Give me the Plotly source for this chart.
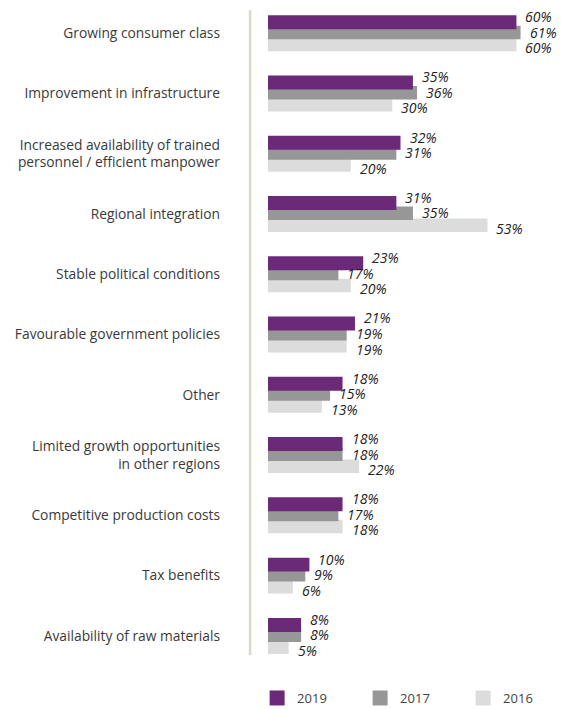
import plotly.graph_objects as go

categories = [
    "Growing consumer class",
    "Improvement in infrastructure",
    "Increased availability of trained<br>personnel / efficient manpower",
    "Regional integration",
    "Stable political conditions",
    "Favourable government policies",
    "Other",
    "Limited growth opportunities<br>in other regions",
    "Competitive production costs",
    "Tax benefits",
    "Availability of raw materials",
]
values_2019 = [60, 35, 32, 31, 23, 21, 18, 18, 18, 10, 8]
values_2017 = [61, 36, 31, 35, 17, 19, 15, 18, 17, 9, 8]
values_2016 = [60, 30, 20, 53, 20, 19, 13, 22, 18, 6, 5]
years = ["2019", "2017", "2016"]

colors = {"2019": "#6b2a77", "2017": "#979797", "2016": "#dcdcdc"}
series = {"2019": values_2019, "2017": values_2017, "2016": values_2016}
# vertical placement inside each category slot (reversed axis: + is down)
bar_offset = {"2019": -0.298, "2017": -0.124, "2016": 0.075}
bar_width = {"2019": 0.232, "2017": 0.224, "2016": 0.224}
label_dy = {"2019": -0.274, "2017": -0.017, "2016": 0.241}

idx = list(range(len(categories)))
fig = go.Figure()

# draw lightest first so the 2019 bar sits on top
for yr in ["2016", "2017", "2019"]:
    fig.add_trace(go.Bar(
        x=series[yr], y=idx, orientation="h",
        offset=bar_offset[yr], width=bar_width[yr],
        marker=dict(color=colors[yr], line=dict(width=0)),
        showlegend=False, hoverinfo="skip",
    ))

# legend entries with larger square swatches
for yr in years:
    fig.add_trace(go.Scatter(
        x=[None], y=[None], mode="markers", name=yr,
        marker=dict(symbol="square", size=15, color=colors[yr], line=dict(width=0)),
    ))

for yr in years:
    for i, v in enumerate(series[yr]):
        fig.add_annotation(
            x=v, y=i + label_dy[yr], text=f"<i>{v}%</i>", showarrow=False,
            xanchor="left", yanchor="middle", xshift=7,
            font=dict(family="Open Sans", size=14, color="#222222"),
        )

# thin separator between labels and bars
fig.add_shape(type="line", xref="paper", yref="paper",
              x0=-0.061, x1=-0.061, y0=0.0166, y1=0.989,
              line=dict(color="#d8d8cc", width=2.5))

fig.update_layout(
    width=562, height=709,
    margin=dict(l=268, r=0, t=3, b=43, autoexpand=False),
    paper_bgcolor="white", plot_bgcolor="white",
    barmode="overlay",
    font=dict(family="Open Sans", size=13, color="#3a3a3a"),
    xaxis=dict(range=[0, 71], visible=False, fixedrange=True),
    yaxis=dict(
        range=[10.5, -0.5], tickvals=idx, ticktext=categories,
        showgrid=False, zeroline=False, showline=False, ticks="",
        ticklabelstandoff=47,
        tickfont=dict(family="Open Sans", size=13.8, color="#3a3a3a"),
    ),
    legend=dict(
        orientation="h", x=-0.037, xanchor="left", y=-0.0483, yanchor="middle",
        entrywidth=58, entrywidthmode="pixels", itemsizing="trace",
        font=dict(family="Open Sans", size=13, color="#444444"),
        bgcolor="rgba(0,0,0,0)",
    ),
)

fig.write_html("out.html")
